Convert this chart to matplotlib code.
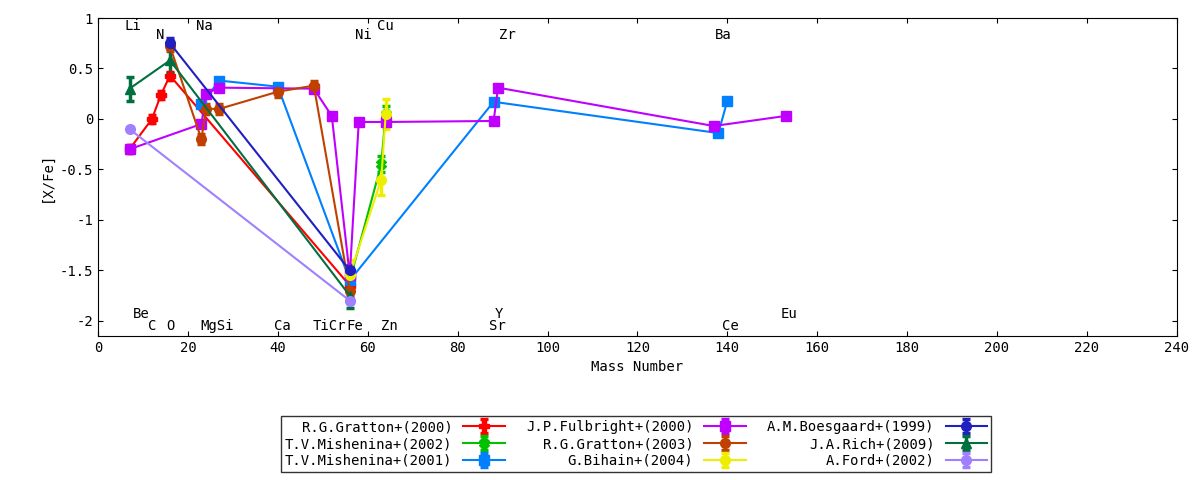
import numpy as np
import matplotlib.pyplot as plt

plt.rcParams['font.family'] = 'DejaVu Sans Mono'
plt.rcParams['font.size'] = 10

# series: (label, colour, marker, mass, [X/Fe], error)
names = ['R.G.Gratton+(2000)', 'T.V.Mishenina+(2002)', 'T.V.Mishenina+(2001)',
         'J.P.Fulbright+(2000)', 'R.G.Gratton+(2003)', 'G.Bihain+(2004)',
         'A.M.Boesgaard+(1999)', 'J.A.Rich+(2009)', 'A.Ford+(2002)']
colors = ['#ff0000', '#00c000', '#0080ff', '#c000ff', '#c04000', '#eeee00',
          '#2020c0', '#007040', '#a080ff']
markers = ['P', 'X', 's', 's', 'o', 'o', 'o', '^', 'o']

m_gr00 = [7, 12, 14, 16, 56]
v_gr00 = [-0.3, 0.0, 0.24, 0.43, -1.65]
m_mi02 = [56, 63, 64]
v_mi02 = [-1.6, -0.45, 0.05]
m_mi01 = [23, 27, 40, 56, 88, 138, 140]
v_mi01 = [0.15, 0.38, 0.32, -1.6, 0.17, -0.14, 0.18]
m_fu00 = [7, 23, 24, 27, 48, 52, 56, 58, 64, 88, 89, 137, 153]
v_fu00 = [-0.3, -0.05, 0.25, 0.31, 0.3, 0.03, -1.55, -0.03, -0.03, -0.02, 0.31, -0.07, 0.03]
m_gr03 = [16, 23, 24, 27, 40, 48, 56]
v_gr03 = [0.72, -0.2, 0.1, 0.1, 0.27, 0.33, -1.7]
m_bi04 = [56, 63, 64]
v_bi04 = [-1.55, -0.6, 0.05]
m_bo99 = [16, 56]
v_bo99 = [0.75, -1.5]
m_ri09 = [7, 16, 56]
v_ri09 = [0.3, 0.58, -1.75]
m_fo02 = [7, 56]
v_fo02 = [-0.1, -1.8]

errs = [0.04, 0.08, 0.03, 0.02, 0.05, 0.15, 0.05, 0.12, 0.02]
masses = [m_gr00, m_mi02, m_mi01, m_fu00, m_gr03, m_bi04, m_bo99, m_ri09, m_fo02]
vals = [v_gr00, v_mi02, v_mi01, v_fu00, v_gr03, v_bi04, v_bo99, v_ri09, v_fo02]

el_top = ['Li', 'Na', 'Cu']
el_top_x = [7.8, 23.6, 64]
el_mid = ['N', 'Ni', 'Zr', 'Ba']
el_mid_x = [13.8, 59, 91, 139]
el_low = ['Be', 'Y', 'Eu']
el_low_x = [9.6, 89.2, 153.7]
el_bot = ['C', 'O', 'MgSi', 'Ca', 'TiCr', 'Fe', 'Zn', 'Sr', 'Ce']
el_bot_x = [12, 16, 26.5, 40.9, 51.5, 57.2, 64.9, 88.8, 140.7]

fig = plt.figure(figsize=(12, 4.8), dpi=100)
ax = fig.add_axes([0.0817, 0.30, 0.899, 0.6625])
for i in range(len(names)):
    ax.errorbar(masses[i], vals[i], yerr=errs[i], color=colors[i], marker=markers[i],
                markersize=7, lw=1.5, elinewidth=2.5, capsize=3, capthick=2.5,
                label=names[i])

for t, x in zip(el_top, el_top_x):
    ax.text(x, 0.92, t, ha='center', va='center')
for t, x in zip(el_mid, el_mid_x):
    ax.text(x, 0.83, t, ha='center', va='center')
for t, x in zip(el_low, el_low_x):
    ax.text(x, -1.93, t, ha='center', va='center')
for t, x in zip(el_bot, el_bot_x):
    ax.text(x, -2.05, t, ha='center', va='center')

ax.set_xlim(0, 240)
ax.set_ylim(-2.15, 1)
ax.set_xticks(np.arange(0, 241, 20))
ax.set_yticks([-2, -1.5, -1, -0.5, 0, 0.5, 1])
ax.set_yticklabels(['-2', '-1.5', '-1', '-0.5', '0', '0.5', '1'])
ax.tick_params(direction='in', top=True, right=True)
ax.set_xlabel('Mass Number')
ax.set_ylabel('[X/Fe]')

handles, labels = ax.get_legend_handles_labels()
fig.legend(handles, labels, ncol=3, loc='center', bbox_to_anchor=(0.53, 0.075),
           fancybox=False, edgecolor='black', markerfirst=False,
           handlelength=3, columnspacing=1.5, borderpad=0.3, labelspacing=0.2)
for txt in fig.legends[0].get_texts():
    txt.set_ha('right')

fig.savefig('out.png')
